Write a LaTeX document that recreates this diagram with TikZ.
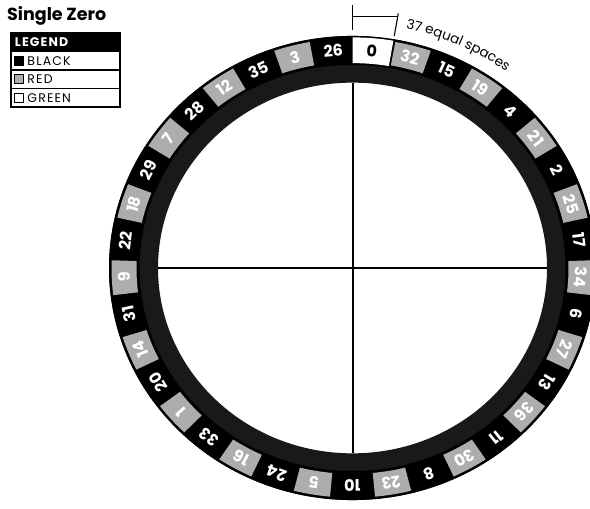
\documentclass[tikz,border=0pt]{standalone}
\usepackage{fontspec}
\setmainfont{Poppins}
\newfontfamily\legendfont[LetterSpace=9]{Poppins}
\usetikzlibrary{positioning,decorations.text}

\tikzset{
  ringfill/.style={fill=black!90},
  pocketband/.style={fill=black},
  redbox/.style={fill=black!32},
  greenbox/.style={fill=white},
  pocketnum/.style={font=\fontsize{16}{16}\selectfont\bfseries, text=white, inner sep=0pt},
  crossline/.style={line width=2pt},
  dimline/.style={line width=1.1pt},
  legendrow/.style={draw=black, line width=1.3pt, minimum height=18.5pt, text width=101pt,
                    inner xsep=4pt, inner ysep=0pt, outer sep=0pt, align=left,
                    font=\legendfont\fontsize{12.5}{12.5}\selectfont},
  swatch/.style={draw=black, line width=0.9pt, minimum size=9pt, inner sep=0pt}
}

\begin{document}
\begin{tikzpicture}[x=1pt, y=1pt]
  \useasboundingbox (0,0) rectangle (590,509);
  \clip (0,0) rectangle (590,509);

  % legend
  \node[anchor=north west, inner sep=0pt, font=\fontsize{17.5}{17.5}\selectfont\bfseries] (title) at (7,503) {Single Zero};
  \node[legendrow, fill=black, text=white, font=\legendfont\fontsize{12.5}{12.5}\selectfont\bfseries,
        anchor=north west] (leg-head) at (11,476) {LEGEND};
  \node[legendrow, below=0pt of leg-head] (leg-black) {\hspace{12.5pt}BLACK};
  \node[legendrow, below=0pt of leg-black] (leg-red) {\hspace{12.5pt}RED};
  \node[legendrow, below=0pt of leg-red] (leg-green) {\hspace{12.5pt}GREEN};
  \node[swatch, fill=black] (sw-black) at ([xshift=8pt]leg-black.west) {};
  \node[swatch, fill=black!32] (sw-red) at ([xshift=8pt]leg-red.west) {};
  \node[swatch, fill=white] (sw-green) at ([xshift=8pt]leg-green.west) {};

  % wheel
  \begin{scope}[shift={(352.5,241)}, yscale=0.953]
    \fill[ringfill, even odd rule] (0,0) circle (243.5) (0,0) circle (194.5);
    \fill[pocketband, even odd rule] (0,0) circle (243.5) (0,0) circle (213);
    \foreach \num [count=\i from 0] in {0,32,15,19,4,21,2,25,17,34,6,27,13,36,11,30,8,23,10,5,24,16,33,1,20,14,31,9,22,18,29,7,28,12,35,3,26} {
      \pgfmathsetmacro{\a}{90-\i*360/37}
      \pgfmathsetmacro{\b}{\a-360/37}
      \pgfmathsetmacro{\m}{\a-180/37}
      \ifnum\i=0
        \fill[greenbox] (\a:215) arc[start angle=\a, end angle=\b, radius=215]
          -- (\b:242) arc[start angle=\b, end angle=\a, radius=242] -- cycle;
        \node[pocketnum, text=black, rotate=\m-90] (pocket-\i) at (\m:228.5) {\num};
      \else
        \ifodd\i
          \pgfmathsetmacro{\as}{\a-0.5}
          \pgfmathsetmacro{\bs}{\b+0.5}
          \fill[redbox] (\as:216) arc[start angle=\as, end angle=\bs, radius=216]
            -- (\bs:241) arc[start angle=\bs, end angle=\as, radius=241] -- cycle;
        \fi
        \node[pocketnum, rotate=\m-90] (pocket-\i) at (\m:228.5) {\num};
      \fi
    }

    % cross
    \coordinate (in-w) at (180:194.5);
    \coordinate (in-e) at (0:194.5);
    \coordinate (in-s) at (270:194.5);
    \coordinate (in-n) at (90:194.5);
    \draw[crossline] (in-w) -- (in-e);
    \draw[crossline] (in-s) -- (in-n);

    % one space
    \coordinate (dim-l-lo) at (90:250);
    \coordinate (dim-l-hi) at (90:276);
    \coordinate (dim-r-lo) at (80.27:247);
    \coordinate (dim-r-hi) at (80.27:271);
    \coordinate (dim-l) at (90:264);
    \coordinate (dim-r) at (80.27:262);
    \draw[dimline] (dim-l-lo) -- (dim-l-hi);
    \draw[dimline] (dim-r-lo) -- (dim-r-hi);
    \draw[dimline] (dim-l) -- (dim-l -| dim-r);
    \path[decorate, decoration={text along path,
          text={|\fontsize{13.5}{13.5}\selectfont|37 equal spaces}}]
      (78:257) arc[start angle=78, end angle=44, radius=257];
  \end{scope}
\end{tikzpicture}
\end{document}
